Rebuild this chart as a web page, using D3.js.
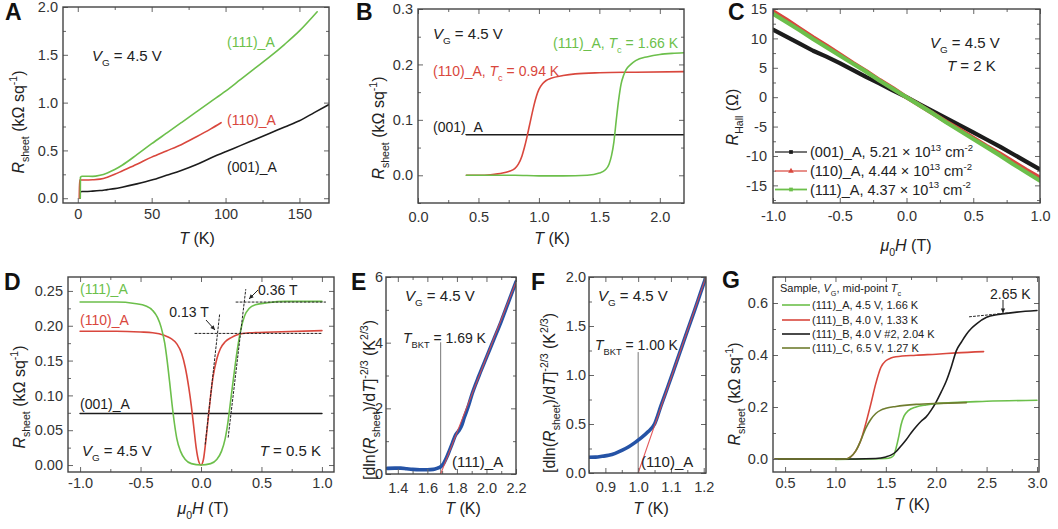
<!DOCTYPE html>
<html><head><meta charset="utf-8">
<script src="https://cdn.jsdelivr.net/npm/d3@7"></script>
<style>body{margin:0;background:#fff}svg{display:block}text{font-family:"Liberation Sans",Arial,Helvetica,sans-serif}</style>
</head><body><svg id="c" width="1058" height="529"></svg>
<script>
// ---------------- DATA ----------------
// Panel A: R_sheet (kOhm/sq) vs T (K)
const A_001 = [[1.5,0],[1.8,0.068],[3,0.07],[5,0.07],[10,0.074],[15,0.08],[20,0.09],[25,0.1],[30,0.115],[40,0.15],[50,0.19],[60,0.24],[70,0.29],[80,0.35],[90,0.42],[100,0.486],[110,0.55],[120,0.615],[130,0.68],[140,0.745],[150,0.81],[160,0.895],[170,0.98]];
const A_110 = [[1.0,0],[1.2,0.19],[3,0.19],[5,0.19],[10,0.193],[15,0.2],[20,0.22],[25,0.25],[30,0.285],[40,0.355],[50,0.43],[60,0.495],[70,0.56],[80,0.64],[90,0.725],[97,0.79]];
const A_111 = [[1.7,0],[1.8,0.22],[3,0.23],[5,0.23],[10,0.228],[15,0.24],[20,0.265],[25,0.3],[30,0.345],[40,0.455],[50,0.57],[60,0.68],[70,0.79],[80,0.9],[90,1.01],[100,1.12],[110,1.24],[120,1.36],[130,1.48],[140,1.61],[150,1.75],[162,1.95]];
const A_xTicks = [0,50,100,150], A_xLabels = ["0","50","100","150"];
const A_yTicks = [0,0.5,1,1.5,2], A_yLabels = ["0.0","0.5","1.0","1.5","2.0"];

// Panel B
const B_001 = [[0.4,0.073],[2.2,0.073]];
const B_110 = [[0.4,0],[0.5,0],[0.6,0.001],[0.7,0.004],[0.75,0.007],[0.8,0.012],[0.83,0.02],[0.86,0.035],[0.88,0.05],[0.9,0.068],[0.92,0.088],[0.94,0.108],[0.96,0.127],[0.98,0.143],[1.0,0.155],[1.03,0.165],[1.06,0.171],[1.1,0.175],[1.2,0.18],[1.3,0.183],[1.5,0.185],[1.8,0.186],[2.2,0.187]];
const B_111 = [[0.4,0],[0.8,0],[1.0,-0.001],[1.2,-0.001],[1.4,0],[1.5,0.004],[1.55,0.01],[1.58,0.02],[1.6,0.035],[1.62,0.06],[1.64,0.1],[1.66,0.137],[1.68,0.165],[1.7,0.18],[1.72,0.19],[1.76,0.2],[1.8,0.207],[1.9,0.214],[2.0,0.218],[2.1,0.22],[2.2,0.221]];
const B_xTicks = [0,0.5,1,1.5,2], B_xLabels = ["0.0","0.5","1.0","1.5","2.0"];
const B_yTicks = [0,0.1,0.2,0.3], B_yLabels = ["0.0","0.1","0.2","0.3"];

// Panel C: R_Hall (Ohm) vs mu0H (T)
const C_H   = [-1,-0.9,-0.8,-0.7,-0.6,-0.5,-0.4,-0.3,-0.2,-0.1,0,0.1,0.2,0.3,0.4,0.5,0.6,0.7,0.8,0.9,1];
const C_001 = [11.5,10.3,9.1,7.9,6.9,5.8,4.6,3.4,2.3,1.1,0,-1.2,-2.4,-3.6,-4.8,-6.0,-7.2,-8.4,-9.7,-11.0,-12.3];
const C_110 = [14.6,13.2,11.7,10.2,8.8,7.3,5.8,4.4,2.9,1.5,0,-1.4,-2.8,-4.2,-5.5,-6.9,-8.3,-9.6,-11.0,-12.4,-13.7];
const C_111 = [14.2,12.8,11.4,9.9,8.5,7.1,5.7,4.3,2.8,1.4,0,-1.4,-2.8,-4.3,-5.7,-7.1,-8.5,-9.9,-11.4,-12.8,-14.2];
const C_legend = ["(001)_A, 5.21 × 10","(110)_A, 4.44 × 10","(111)_A, 4.37 × 10"];
const C_xTicks = [-1,-0.5,0,0.5,1], C_xLabels = ["-1.0","-0.5","0.0","0.5","1.0"];
const C_yTicks = [-15,-10,-5,0,5,10,15], C_yLabels = ["-15","-10","-5","0","5","10","15"];

// Panel D: R_sheet vs mu0H at 0.5 K
const D_001 = [[-1,0.074],[1,0.074]];
const D_110 = [[-1,0.192],[-0.7,0.192],[-0.5,0.191],[-0.4,0.19],[-0.3,0.186],[-0.25,0.182],[-0.2,0.174],[-0.16,0.16],[-0.13,0.14],[-0.1,0.11],[-0.08,0.085],[-0.06,0.055],[-0.04,0.025],[-0.02,0.006],[0,0],[0.02,0.008],[0.04,0.035],[0.06,0.068],[0.08,0.1],[0.1,0.127],[0.13,0.152],[0.16,0.167],[0.2,0.177],[0.25,0.183],[0.3,0.187],[0.4,0.19],[0.6,0.191],[1,0.193]];
const D_111 = [[-1,0.234],[-0.7,0.234],[-0.55,0.232],[-0.45,0.228],[-0.4,0.222],[-0.36,0.212],[-0.33,0.198],[-0.3,0.175],[-0.28,0.15],[-0.26,0.12],[-0.24,0.088],[-0.22,0.06],[-0.2,0.038],[-0.17,0.02],[-0.13,0.008],[-0.08,0.002],[0,0],[0.08,0.002],[0.13,0.008],[0.17,0.02],[0.2,0.038],[0.22,0.058],[0.24,0.085],[0.26,0.113],[0.28,0.14],[0.3,0.165],[0.33,0.195],[0.36,0.214],[0.4,0.225],[0.45,0.23],[0.55,0.233],[0.7,0.235],[1,0.235]];
const D_guides = [[[-0.05,0.189],[1.0,0.189]],[[0.035,0.03],[0.155,0.218]],[[0.29,0.234],[1.03,0.234]],[[0.225,0.04],[0.37,0.252]]];
const D_xTicks = [-1,-0.5,0,0.5,1], D_xLabels = ["-1.0","-0.5","0.0","0.5","1.0"];
const D_yTicks = [0,0.05,0.1,0.15,0.2,0.25], D_yLabels = ["0.00","0.05","0.10","0.15","0.20","0.25"];

// Panel E: BKT analysis (111)_A
const E_data = [[1.33,0.17],[1.38,0.18],[1.42,0.18],[1.46,0.16],[1.5,0.14],[1.55,0.13],[1.6,0.13],[1.64,0.14],[1.67,0.18],[1.69,0.22],[1.71,0.32],[1.73,0.5],[1.75,0.72],[1.77,0.95],[1.79,1.18],[1.81,1.3],[1.83,1.45],[1.85,1.72],[1.88,2.1],[1.9,2.4],[1.95,3.0],[2.0,3.55],[2.05,4.1],[2.1,4.65],[2.15,5.25],[2.2,5.85]];
const E_fit = [[1.69,0],[2.2,5.85]];
const E_bkt = [[1.69,0],[1.69,4.0]];
const E_xTicks = [1.4,1.6,1.8,2.0,2.2], E_xLabels = ["1.4","1.6","1.8","2.0","2.2"];
const E_yTicks = [0,2,4,6], E_yLabels = ["0","2","4","6"];

// Panel F: BKT analysis (110)_A
const F_data = [[0.85,0.16],[0.87,0.162],[0.89,0.17],[0.91,0.18],[0.93,0.2],[0.95,0.23],[0.97,0.265],[0.99,0.31],[1.01,0.36],[1.03,0.42],[1.05,0.5],[1.07,0.69],[1.09,0.875],[1.11,1.065],[1.13,1.257],[1.15,1.45],[1.17,1.64],[1.19,1.835],[1.21,2.03]];
const F_fit = [[1.0,0],[1.21,2.03]];
const F_bkt = [[1.0,0],[1.0,1.23]];
const F_xTicks = [0.9,1.0,1.1,1.2], F_xLabels = ["0.9","1.0","1.1","1.2"];
const F_yTicks = [0,0.5,1,1.5,2], F_yLabels = ["0.0","0.5","1.0","1.5","2.0"];

// Panel G: several samples
const G_111A = [[1.0,-0.002],[1.3,0],[1.5,0.002],[1.55,0.006],[1.58,0.015],[1.6,0.04],[1.63,0.09],[1.65,0.13],[1.68,0.165],[1.72,0.185],[1.8,0.2],[1.9,0.208],[2.0,0.213],[2.5,0.222],[3.0,0.226]];
const G_111B = [[0.4,0],[0.8,0],[1.1,0],[1.15,0.008],[1.2,0.03],[1.25,0.07],[1.3,0.135],[1.35,0.21],[1.4,0.29],[1.45,0.352],[1.5,0.378],[1.55,0.388],[1.6,0.393],[1.8,0.399],[2.0,0.403],[2.2,0.408],[2.47,0.413]];
const G_111B2 = [[0.4,0],[1.0,0],[1.4,0.002],[1.5,0.008],[1.55,0.015],[1.6,0.028],[1.65,0.05],[1.7,0.073],[1.75,0.1],[1.8,0.124],[1.85,0.145],[1.9,0.162],[1.95,0.188],[2.0,0.22],[2.05,0.258],[2.1,0.3],[2.15,0.355],[2.2,0.417],[2.25,0.45],[2.3,0.48],[2.35,0.503],[2.4,0.52],[2.5,0.545],[2.6,0.555],[2.65,0.558],[2.8,0.565],[3.0,0.571]];
const G_111C = [[0.4,0],[0.8,0],[1.1,0],[1.15,0.008],[1.2,0.03],[1.25,0.07],[1.3,0.118],[1.35,0.152],[1.4,0.175],[1.45,0.188],[1.5,0.195],[1.6,0.202],[1.8,0.21],[2.0,0.214],[2.3,0.217]];
const G_guide = [[2.33,0.547],[2.72,0.562]];
const G_legend = ["(111)_A, 4.5 V, 1.66 K","(111)_B, 4.0 V, 1.33 K","(111)_B, 4.0 V #2, 2.04 K","(111)_C, 6.5 V, 1.27 K"];
const G_xTicks = [0.5,1,1.5,2,2.5,3], G_xLabels = ["0.5","1.0","1.5","2.0","2.5","3.0"];
const G_yTicks = [0,0.2,0.4,0.6], G_yLabels = ["0.0","0.2","0.4","0.6"];

// ---------------- STYLE ----------------
const GREEN = "#6cbf4b", RED = "#d9473d", BLACK = "#1c1c1c", OLIVE = "#6f7d2f", BLUE = "#2553a6", FITRED = "#e0474a";
const FONT = "'Liberation Sans', Arial, Helvetica, sans-serif";
const TICKFS = 14.5;
const svg = d3.select("#c");
const defs = svg.append("defs");

function rich(parent, x, y, parts, o = {}) {
  const fs = o.size || 14;
  const t = parent.append("text").attr("x", x).attr("y", y).attr("font-size", fs)
    .attr("fill", o.fill || "#222").attr("text-anchor", o.anchor || "start").attr("font-family", FONT);
  if (o.rotate) t.attr("transform", `rotate(-90,${x},${y})`);
  let shift = 0;
  parts.forEach(p => {
    if (typeof p === "string") p = { t: p };
    const sfs = (p.sub || p.sup) ? fs * 0.66 : fs;
    const target = p.sub ? fs * 0.33 : p.sup ? -fs * 0.42 : 0;
    const ts = t.append("tspan").text(p.t).attr("font-size", sfs);
    if (target !== shift) { ts.attr("dy", target - shift); shift = target; }
    if (p.i) ts.attr("font-style", "italic");
    if (p.b) ts.attr("font-weight", "bold");
  });
  return t;
}

function minorVals(dom, step, majors) {
  const lo = Math.min(dom[0], dom[1]), hi = Math.max(dom[0], dom[1]);
  const out = [];
  for (let v = Math.ceil(lo / step - 1e-9) * step; v <= hi + 1e-9; v += step) {
    const r = Math.round(v / step) * step;
    if (!majors.some(m => Math.abs(m - r) < step * 1e-3)) out.push(r);
  }
  return out;
}

function panel(o) {
  const [x0, y0, x1, y1] = o.box;
  const x = d3.scaleLinear().domain(o.xd).range([x0, x1]);
  const y = d3.scaleLinear().domain(o.yd).range([y1, y0]);
  const g = svg.append("g");
  const id = "clip" + o.letter;
  defs.append("clipPath").attr("id", id).append("rect")
    .attr("x", x0).attr("y", y0).attr("width", x1 - x0).attr("height", y1 - y0);
  const plot = g.append("g").attr("clip-path", `url(#${id})`);
  const xm = minorVals(o.xd, o.xminor, o.xt), ym = minorVals(o.yd, o.yminor, o.yt);
  const ax = g.append("g").attr("color", "#444").attr("font-family", FONT).attr("font-size", TICKFS);
  const add = (fn, sc, vals, size, labels, pad, tr) => {
    ax.append("g").attr("transform", tr).call(
      fn(sc).tickValues(vals).tickSizeInner(-size).tickSizeOuter(0).tickPadding(pad || 5)
        .tickFormat(labels ? (d, i) => labels[i] : () => ""));
  };
  add(d3.axisBottom, x, o.xt, 5, o.xl, o.xpad, `translate(0,${y1})`);
  add(d3.axisBottom, x, xm, 3, null, 0, `translate(0,${y1})`);
  add(d3.axisTop, x, o.xt, 5, null, 0, `translate(0,${y0})`);
  add(d3.axisTop, x, xm, 3, null, 0, `translate(0,${y0})`);
  add(d3.axisLeft, y, o.yt, 5, o.yl, o.ypad, `translate(${x0},0)`);
  add(d3.axisLeft, y, ym, 3, null, 0, `translate(${x0},0)`);
  add(d3.axisRight, y, o.yt, 5, null, 0, `translate(${x1},0)`);
  add(d3.axisRight, y, ym, 3, null, 0, `translate(${x1},0)`);
  ax.selectAll(".domain").remove();
  ax.selectAll(".tick text").attr("fill", "#333").attr("font-size", TICKFS);
  ax.selectAll(".tick line").attr("stroke", "#666");
  g.append("rect").attr("x", x0).attr("y", y0).attr("width", x1 - x0).attr("height", y1 - y0)
    .attr("fill", "none").attr("stroke", "#444").attr("stroke-width", 1.4);
  rich(svg, o.lx, o.ly, [{ t: o.letter, b: true }], { size: 23, fill: "#111" });
  return { g, plot, x, y };
}

function curve(p, data, color, w, opts = {}) {
  const line = d3.line().x(d => p.x(d[0])).y(d => p.y(d[1]));
  if (!opts.straight) line.curve(d3.curveMonotoneX);
  return p.plot.append("path").attr("d", line(data)).attr("fill", "none")
    .attr("stroke", color).attr("stroke-width", w).attr("stroke-linejoin", "round")
    .attr("stroke-linecap", "round").attr("stroke-dasharray", opts.dash || null)
    .attr("opacity", opts.op || 1);
}

function arrow(x1, y1, x2, y2) {
  svg.append("line").attr("x1", x1).attr("y1", y1).attr("x2", x2).attr("y2", y2)
    .attr("stroke", "#222").attr("stroke-width", 1);
  const a = Math.atan2(y2 - y1, x2 - x1), L = 5, s = 0.45;
  const pts = [[x2, y2], [x2 - L * Math.cos(a - s), y2 - L * Math.sin(a - s)], [x2 - L * Math.cos(a + s), y2 - L * Math.sin(a + s)]];
  svg.append("path").attr("d", "M" + pts.join("L") + "Z").attr("fill", "#222");
}

const Rsheet = [{ t: "R", i: true }, { t: "sheet", sub: true }, " (kΩ sq", { t: "-1", sup: true }, ")"];
const Tk = [{ t: "T", i: true }, " (K)"];
const muH = [{ t: "μ", i: true }, { t: "0", sub: true }, { t: "H", i: true }, " (T)"];
const VG = [{ t: "V", i: true }, { t: "G", sub: true }, " = 4.5 V"];
const dlnR = ["[dln(", { t: "R", i: true }, { t: "sheet", sub: true }, ")/d", { t: "T", i: true }, "]", { t: "-2/3", sup: true }, " (K", { t: "2/3", sup: true }, ")"];

// ---------------- PANEL A ----------------
{
  const p = panel({ letter: "A", lx: 5, ly: 20, box: [63, 7, 329, 203], xd: [-10, 170], yd: [-0.05, 2.0],
    xt: A_xTicks, xl: A_xLabels, xminor: 25, yt: A_yTicks, yl: A_yLabels, yminor: 0.25, xpad: 6, ypad: 5 });
  curve(p, A_001, BLACK, 1.6); curve(p, A_110, RED, 1.6); curve(p, A_111, GREEN, 1.6);
  rich(svg, 92, 61, VG, { size: 15 });
  rich(svg, 227, 47, ["(111)_A"], { size: 14, fill: GREEN });
  rich(svg, 227, 125, ["(110)_A"], { size: 14, fill: RED });
  rich(svg, 227, 172, ["(001)_A"], { size: 14, fill: BLACK });
  rich(svg, 24, 122, Rsheet, { size: 16, anchor: "middle", rotate: true });
  rich(svg, 197, 244, Tk, { size: 16, anchor: "middle" });
}
// ---------------- PANEL B ----------------
{
  const p = panel({ letter: "B", lx: 356, ly: 20, box: [418, 9, 684, 203], xd: [0, 2.2], yd: [-0.05, 0.3],
    xt: B_xTicks, xl: B_xLabels, xminor: 0.25, yt: B_yTicks, yl: B_yLabels, yminor: 0.05, xpad: 9, ypad: 5 });
  curve(p, B_001, BLACK, 1.6, { straight: true }); curve(p, B_110, RED, 1.6); curve(p, B_111, GREEN, 1.6);
  rich(svg, 433, 39, VG, { size: 15 });
  rich(svg, 553, 48, ["(111)_A, ", { t: "T", i: true }, { t: "c", sub: true }, " = 1.66 K"], { size: 14, fill: GREEN });
  rich(svg, 433, 76, ["(110)_A, ", { t: "T", i: true }, { t: "c", sub: true }, " = 0.94 K"], { size: 14, fill: RED });
  rich(svg, 433, 132, ["(001)_A"], { size: 14, fill: BLACK });
  rich(svg, 384, 128, Rsheet, { size: 16, anchor: "middle", rotate: true });
  rich(svg, 552, 244, Tk, { size: 16, anchor: "middle" });
}
// ---------------- PANEL C ----------------
{
  const p = panel({ letter: "C", lx: 728, ly: 20, box: [773, 9, 1040, 203], xd: [-1, 1], yd: [-18, 15],
    xt: C_xTicks, xl: C_xLabels, xminor: 0.25, yt: C_yTicks, yl: C_yLabels, yminor: 2.5, xpad: 8, ypad: 6 });
  const series = [[C_001, BLACK], [C_110, RED], [C_111, GREEN]];
  series.forEach(([vals, col]) => curve(p, C_H.map((h, i) => [h, vals[i]]), col, 4.2, { straight: true }));
  rich(svg, 930, 48, VG, { size: 15 });
  rich(svg, 947, 71, [{ t: "T", i: true }, " = 2 K"], { size: 15 });
  const sym = [d3.symbolSquare, d3.symbolTriangle, d3.symbolSquare];
  const cols = [BLACK, RED, GREEN];
  const ly = [152, 171, 189.5];
  C_legend.forEach((s, i) => {
    svg.append("line").attr("x1", 775).attr("x2", 807).attr("y1", ly[i]).attr("y2", ly[i])
      .attr("stroke", cols[i]).attr("stroke-width", i === 2 ? 1.8 : 1.2);
    svg.append("path").attr("d", d3.symbol().type(sym[i]).size(14)()).attr("transform", `translate(791,${ly[i]})`).attr("fill", cols[i]);
    rich(svg, 810, ly[i] + 5, [s, { t: "13", sup: true }, " cm", { t: "-2", sup: true }], { size: 14.5 });
  });
  rich(svg, 738, 117, [{ t: "R", i: true }, { t: "Hall", sub: true }, " (Ω)"], { size: 16, anchor: "middle", rotate: true });
  rich(svg, 906, 251, muH, { size: 16, anchor: "middle" });
}
// ---------------- PANEL D ----------------
{
  const p = panel({ letter: "D", lx: 4, ly: 290, box: [68, 277, 334, 472], xd: [-1.1, 1.1], yd: [-0.01, 0.27],
    xt: D_xTicks, xl: D_xLabels, xminor: 0.25, yt: D_yTicks, yl: D_yLabels, yminor: 0.025, xpad: 6, ypad: 5 });
  curve(p, D_001, BLACK, 1.6, { straight: true }); curve(p, D_110, RED, 1.6); curve(p, D_111, GREEN, 1.6);
  D_guides.forEach(seg => curve(p, seg, "#222", 1, { straight: true, dash: "2,2" }));
  rich(svg, 80, 294, ["(111)_A"], { size: 14, fill: GREEN });
  rich(svg, 80, 325, ["(110)_A"], { size: 14, fill: RED });
  rich(svg, 80, 409, ["(001)_A"], { size: 14, fill: BLACK });
  rich(svg, 82, 456, VG, { size: 15 });
  rich(svg, 321, 456, [{ t: "T", i: true }, " = 0.5 K"], { size: 15, anchor: "end" });
  rich(svg, 189, 317, ["0.13 T"], { size: 14, anchor: "middle" });
  rich(svg, 258, 295, ["0.36 T"], { size: 14 });
  arrow(206, 320, 215, 330);
  arrow(258, 290, 249, 299);
  rich(svg, 25, 397, Rsheet, { size: 16, anchor: "middle", rotate: true });
  rich(svg, 203, 514, muH, { size: 16, anchor: "middle" });
}
// ---------------- PANEL E ----------------
{
  const p = panel({ letter: "E", lx: 351, ly: 290, box: [386, 277, 516, 474], xd: [1.32, 2.2], yd: [0, 6],
    xt: E_xTicks, xl: E_xLabels, xminor: 0.1, yt: E_yTicks, yl: E_yLabels, yminor: 1, xpad: 9, ypad: 3 });
  curve(p, E_bkt, "#777", 1, { straight: true });
  curve(p, E_data, BLUE, 3.6);
  curve(p, E_fit, FITRED, 1.1, { straight: true, op: 0.9 });
  rich(svg, 405, 301, VG, { size: 15 });
  rich(svg, 403, 343, [{ t: "T", i: true }, { t: "BKT", sub: true }, " = 1.69 K"], { size: 14 });
  rich(svg, 452, 467, ["(111)_A"], { size: 15 });
  rich(svg, 375, 400, dlnR, { size: 16, anchor: "middle", rotate: true });
  rich(svg, 463, 514, Tk, { size: 16, anchor: "middle" });
}
// ---------------- PANEL F ----------------
{
  const p = panel({ letter: "F", lx: 531, ly: 290, box: [589, 277, 706, 473], xd: [0.85, 1.207], yd: [0, 2],
    xt: F_xTicks, xl: F_xLabels, xminor: 0.05, yt: F_yTicks, yl: F_yLabels, yminor: 0.25, xpad: 9, ypad: 3 });
  curve(p, F_bkt, "#777", 1, { straight: true });
  curve(p, F_data, BLUE, 3.6);
  curve(p, F_fit, FITRED, 1.1, { straight: true, op: 0.9 });
  rich(svg, 598, 301, VG, { size: 15 });
  rich(svg, 595, 350, [{ t: "T", i: true }, { t: "BKT", sub: true }, " = 1.00 K"], { size: 14 });
  rich(svg, 641, 467, ["(110)_A"], { size: 15 });
  rich(svg, 555, 393, dlnR, { size: 16, anchor: "middle", rotate: true });
  rich(svg, 651, 514, Tk, { size: 16, anchor: "middle" });
}
// ---------------- PANEL G ----------------
{
  const p = panel({ letter: "G", lx: 722, ly: 288, box: [773, 277, 1039, 472], xd: [0.38, 3.02], yd: [-0.05, 0.7],
    xt: G_xTicks, xl: G_xLabels, xminor: 0.25, yt: G_yTicks, yl: G_yLabels, yminor: 0.1, xpad: 6, ypad: 5 });
  curve(p, G_111A, GREEN, 1.6); curve(p, G_111B, RED, 1.6); curve(p, G_111B2, BLACK, 1.6); curve(p, G_111C, OLIVE, 1.6);
  curve(p, G_guide, "#222", 1, { straight: true, dash: "2,2" });
  rich(svg, 780, 292, ["Sample, ", { t: "V", i: true }, { t: "G", sub: true }, ", mid-point ", { t: "T", i: true }, { t: "c", sub: true }], { size: 11 });
  const cols = [GREEN, RED, BLACK, OLIVE];
  const ly = [305, 320, 334, 348];
  G_legend.forEach((s, i) => {
    svg.append("line").attr("x1", 782).attr("x2", 810).attr("y1", ly[i]).attr("y2", ly[i]).attr("stroke", cols[i]).attr("stroke-width", 1.6);
    rich(svg, 812, ly[i] + 4, [s], { size: 11 });
  });
  rich(svg, 990, 299, ["2.65 K"], { size: 14 });
  arrow(1003, 300, 1003, 313);
  rich(svg, 740, 394, Rsheet, { size: 16, anchor: "middle", rotate: true });
  rich(svg, 912, 510, Tk, { size: 16, anchor: "middle" });
}
</script>
</body></html>
